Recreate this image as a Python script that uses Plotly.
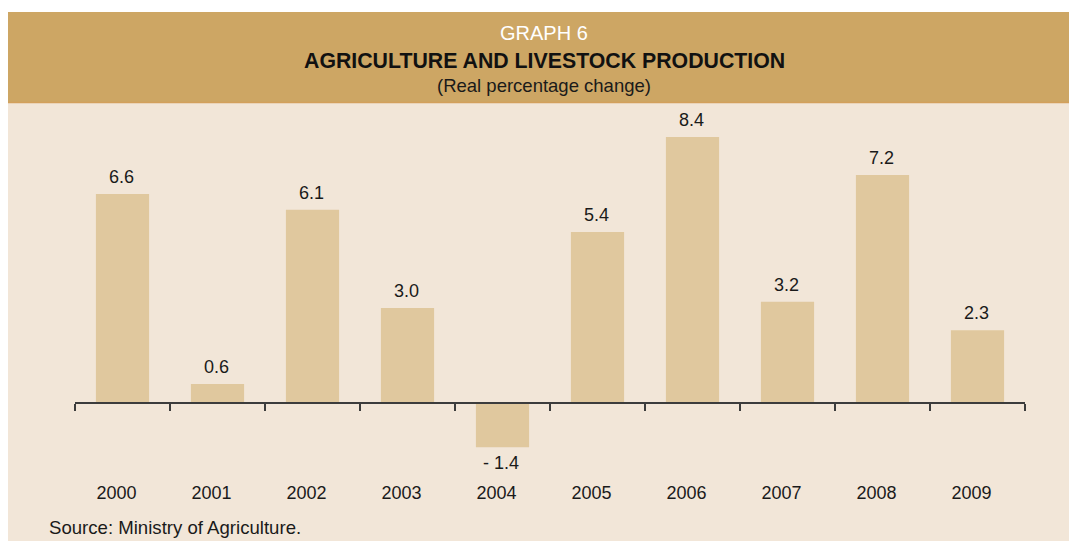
import plotly.graph_objects as go

years = ["2000", "2001", "2002", "2003", "2004", "2005", "2006", "2007", "2008", "2009"]
changes = [6.6, 0.6, 6.1, 3.0, -1.4, 5.4, 8.4, 3.2, 7.2, 2.3]

W, H = 1069, 541
ML, MR, MT, MB = 75, 44, 110, 71
PW, PH = W - ML - MR, H - MT - MB


def px(x):
    return (x - ML) / PW


def py(y):
    return (H - MB - y) / PH


HEADER = "#CDA664"
BG = "#F2E6D8"
BAR = "#E0C89E"
TXT = "#1a1a1a"
FONT = "Liberation Sans, Arial, sans-serif"

fig = go.Figure()
fig.add_trace(go.Bar(x=years, y=changes, marker_color=BAR, marker_line_width=0,
                     hoverinfo="skip"))


def fmt(v):
    return f"{v:.1f}" if v >= 0 else f"- {abs(v):.1f}"


annotations = []
for i, v in enumerate(changes):
    annotations.append(dict(
        x=i, y=v, xref="x", yref="y", text=fmt(v), showarrow=False,
        xanchor="center",
        yanchor="bottom" if v >= 0 else "top",
        yshift=5 if v >= 0 else -4, xshift=-1.5,
        font=dict(family=FONT, size=18, color=TXT)))

annotations += [
    dict(x=px(544), y=py(33), xref="paper", yref="paper", text="GRAPH 6",
         showarrow=False, font=dict(family=FONT, size=20, color="white"),
         xanchor="center", yanchor="middle"),
    dict(x=px(544), y=py(61), xref="paper", yref="paper",
         text="<b>AGRICULTURE AND LIVESTOCK PRODUCTION</b>",
         showarrow=False, font=dict(family=FONT, size=21.3, color="#111111"),
         xanchor="center", yanchor="middle"),
    dict(x=px(544), y=py(85), xref="paper", yref="paper",
         text="(Real percentage change)",
         showarrow=False, font=dict(family=FONT, size=18.5, color=TXT),
         xanchor="center", yanchor="middle"),
    dict(x=px(47), y=py(527), xref="paper", yref="paper",
         text="Source: Ministry of Agriculture.",
         showarrow=False, font=dict(family=FONT, size=18.6, color=TXT),
         xanchor="left", yanchor="middle"),
]

shapes = [
    dict(type="rect", xref="paper", yref="paper", layer="below",
         x0=px(8), x1=px(W + 2), y0=py(H + 2), y1=py(103),
         fillcolor=BG, line_width=0),
    dict(type="rect", xref="paper", yref="paper", layer="below",
         x0=px(8), x1=px(W + 2), y0=py(103), y1=py(12),
         fillcolor=HEADER, line_width=0),
    dict(type="line", xref="paper", yref="paper", layer="below",
         x0=px(8), x1=px(W + 2), y0=py(102.5), y1=py(102.5),
         line=dict(color="#D3A05C", width=1.5)),
]

zero_px = 403
fig.update_layout(
    width=W, height=H,
    margin=dict(l=ML, r=MR, t=MT, b=MB, pad=0),
    paper_bgcolor="white", plot_bgcolor="rgba(0,0,0,0)",
    bargap=0.44, showlegend=False,
    annotations=annotations, shapes=shapes,
    xaxis=dict(type="category", range=[-0.5, 9.5], anchor="free",
               position=py(zero_px), showline=True, linecolor="#3c3c3c",
               linewidth=2, ticks="outside", ticklen=7, tickwidth=1.5,
               tickcolor="#3c3c3c", tickson="boundaries", showgrid=False,
               ticklabelstandoff=73, ticklabelshift=-6,
               tickfont=dict(family=FONT, size=18, color=TXT), fixedrange=True),
    yaxis=dict(range=[-(H - MB - zero_px) / 31.67, (zero_px - MT) / 31.67],
               visible=False, showgrid=False, zeroline=False, fixedrange=True),
)

fig.write_html("out.html", config={"displayModeBar": False})
